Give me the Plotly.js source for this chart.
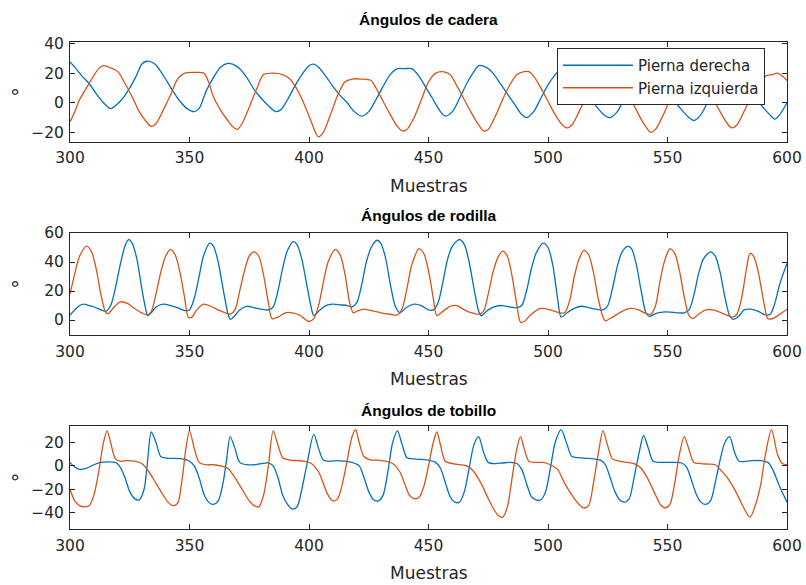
<!DOCTYPE html>
<html>
<head>
<meta charset="utf-8">
<script src="https://cdn.plot.ly/plotly-3.0.1.min.js"></script>
<style>html,body{margin:0;padding:0;background:#fff;}#chart{width:806px;height:585px;}</style>
</head>
<body>
<div id="chart"></div>
<script>
// ---------- DATA ----------
const seriesNames = ["Pierna derecha", "Pierna izquierda"];
const panelTitles = ["Ángulos de cadera", "Ángulos de rodilla", "Ángulos de tobillo"];
const xTickVals = [300, 350, 400, 450, 500, 550, 600];
const hipTicks = [-20, 0, 20, 40];
const kneeTicks = [0, 20, 40, 60];
const ankleTicks = [-40, -20, 0, 20];

// Hip - right leg
const hipRightX = [300,302,305,308,311,314,317,319,321,323,325,328,330,332,334,336,338,340,343,346,349,352,354,357,360,363,366,368,371,374,377,380,383,386,388,391,394,397,400,402,404,407,410,413,416,419,422,425,428,431,434,437,440,443,446,449,452,455,457,460,463,466,469,471,474,477,480,483,486,489,491,494,497,500,503,506,509,512,515,518,521,524,526,529,532,535,538,541,544,547,550,553,556,559,561,564,567,570,573,576,579,582,585,588,591,594,595,597,600];
const hipRightY = [27.5,24,18,13,6,0,-4,-2,1,5,10,19,26,28,27.5,25.5,21,16,8,1,-4,-6,-4,8,17,24,26.5,26,23,17,9,3,-2,-6,-5,2,11,19,25,26,24,18,11,5,0,-6,-9,-6,2,11,19,23,23,23,18,10,2,-6,-9,-6,3,13,21,25,24,20,13,6,-1,-8,-10,-6,3,12,19,23,22,16,8,2,-4,-9,-10,-6,3,12,19,22,21,16,8,1,-5,-10,-12,-8,1,10,18,22,21,15,8,1,-5,-10,-11,-8,0];
// Hip - left leg
const hipLeftX = [300,302,304,308,312,314,317,320,323,326,329,332,334,336,339,342,345,348,352,356,358,360,363,366,368,370,372,375,378,381,385,389,392,395,398,401,403,404,406,409,412,415,418,422,426,428,431,434,437,439,441,444,447,450,453,456,459,462,465,468,471,473,475,478,481,484,487,490,492,494,497,500,503,506,508,510,513,516,519,522,525,528,531,534,537,540,543,545,548,551,554,557,560,563,566,569,572,575,577,579,582,585,588,591,594,596,598,600];
const hipLeftY = [-13,-6,2,13,23,25,23.5,21,13,4,-6,-13,-16,-14,-5,5,16,20,20.5,20,14,4,-5,-12,-16,-18,-14,-3,9,19,20,19,16,9,-1,-13,-21,-23,-20,-8,5,14,16,16,15,10,1,-8,-16,-19,-18,-10,2,14,20,21,19,11,2,-7,-15,-19,-18,-9,2,12,19,21,21,18,10,1,-8,-15,-17,-15,-6,4,13,18,20,19,13,4,-5,-14,-20,-18,-9,2,11,17,19,18,12,3,-6,-14,-17,-15,-6,4,13,18,19,20,18,15];

// Knee - right leg
const kneeRightX = [300,302,304,306,308,310,313,315,317,319,321,323,324.5,326,328,330,331.5,332.5,334,336,339,342,345,348,350,352,354,356,358.5,360,362,364,366,367,369,371,374,377,380,383,385,387,389,391,393.5,395,397,399,401,402,404,407,410,413,416,418,420,422,424,426,428.5,430,432,434,436,438,441,444,447,450,452,454,456,458,460,463,465,467,469,471,472,475,478,481,484,487,489,491,493,495,498,500,502,504,505.5,508,511,514,517,520,523,525,527,529,531,533.5,535,537,539,541,542.5,545,548,551,554,557,559,561,563,565,568,570,572,574,576,577.5,580,582,585,588,591,593,595,597,600];
const kneeRightY = [3.5,7,10,11,10,9,7,6,10,22,38,51,55.5,53,42,22,9,3,5,9,11,10,8.5,6.5,7,15,30,45,53,51,40,22,5,0.5,3,7,9.5,8.5,7.5,7,9,20,36,48,54,52,42,25,8,3,6,10,11,10.5,10,9,12,24,40,50,55,53,43,25,10,5,9,11,10,7,7,12,26,42,51,55.5,52,40,22,6,3,7,9.5,10,9,8.5,10,20,35,46,53,50,38,15,2,5,8,9.5,8.5,7.5,7,10,22,37,47,51,49,38,20,5,2.5,4.5,5.5,5.5,5,5,7,17,32,42,47,44,33,16,3,0.5,3,7,7.5,6,3.5,4,12,25,39];
// Knee - left leg
const kneeLeftX = [300,302,304,307,309,311,313,315,316,318,321,324,327,330,332.5,334,336,338,340,342,344,346,348,349.5,351,353,356,359,362,365,367,369,371,373,375,377,379,381,383,384.5,387,390,393,396,398,400,402,404,406,408,411,413,415,417,418.5,420,423,426,430,434,437,439,441,443,446,448,450,452,453.5,456,459,462,465,468,471,473,475,477,479,481,483,485,487,488.5,490,493,497,501,505,507,509,511,513,515,517,519,521,523,524,527,531,534.5,538,541,543,545,547,549,551,553,555,557,559,560.5,563,566,569,574,577,579,581,583,584.5,586,588,590,592,594,597,600];
const kneeLeftY = [18,32,44,51,47,35,17,5,4.5,8,12.5,11.5,8,5,3.5,6,18,33,44,48.5,45,33,15,2,2,7,11,9.5,7,5,4,7,20,34,44,47,44,31,12,1,2,5,5,3.5,1,-1,1,10,26,40,48.5,45,32,12,5,6,7.5,6.5,5,4,3.5,8,22,38,49,46,34,15,3,6,9.5,10,7,5,4,6,18,33,43,47.5,44,30,10,-1.5,-1,4,8,7,5,5,13,30,42,48,45,33,15,2,-0.5,2,6,8,7,4.5,4,10,28,42,49,46,34,16,3,1,4,7,7,4,2,4,15,35,46,44,33,15,1,1,4,7.4];

// Ankle - right leg
const ankleRightX = [300,302,304,307,310,313,316,319,321,323,325,327,329,331,332.5,334,336,338,341,344,347,350,352,354,356,358,360,362,364,365.5,367,369,371,374,377,380,383,385,387,389,391,393,395,397,399,402,404,406,409,412,415,418,421,423,425,427,429,431,433,435,437,439,441,444,447,450,453,455,457,459,461,463,465,467,469,471,473,475,478,481,484,487,489,491,493,495,497,499,501,503,505.5,508,510,513,516,519,522,524,526,528,530,532,534,536,538,540,542,544,547,550,553,556,558,560,562,564,566,568,570,572,574,576,578,580,585,589,592,594,597,600];
const ankleRightY = [3,-1,-3,-2,1,3,3.5,3,-1,-10,-22,-28,-29,-20,5,29,20,8,6.5,6.5,6,4,0,-10,-24,-31,-33,-30,-15,5,25,15,3,1,1,2,2.5,0,-10,-25,-33,-37,-35,-20,0,27,15,5,4,4.5,4,3,0,-10,-22,-29,-30,-25,-5,20,30,18,7,6,5.5,5,3,-2,-14,-26,-31,-31,-22,-2,18,25,12,3,2,2.5,3,2,-3,-15,-26,-29,-29,-22,-2,20,31,18,8,7,6.5,6,5,1,-10,-22,-29,-31,-28,-10,10,26,15,4,3,3,3,2.5,-1,-12,-24,-31,-33,-30,-14,5,20,25,12,4,4.5,4.5,3,-3,-18,-31];
// Ankle - left leg
const ankleLeftX = [300,302,304,306,308,310,312,314,315.5,317,319,321,324,327,330,333,336,339,341,343,345,347,348.5,350,352,354,357,360,363,366,369,372,375,377,379,381,383,385,387,389,392,395,398,401,404,406,408,410,412,414,416,418,419.5,421,423,426,429,432,435,438,440,442,444,446,448,450,452,453.5,455,457,460,463,466,469,472,475,477,479,481,483,485,487,488.5,490,492,495,498,501,504,507,510,513,515,517,519,521,523,525,527,530,533,536,539,542,545,547,549,551,553,555,557,559,561,564,567,570,572,575,577.5,580,581.7,584.5,587,589,591,593.5,596,598,600];
const ankleLeftY = [-20,-30,-34,-35,-34,-25,-5,20,30,20,6,4,4.5,4,2,-5,-15,-25,-31,-34,-32,-10,15,30,15,3,1,1,0,-2,-10,-20,-30,-34,-35,-25,0,30,18,7,5,4.5,4,2,-5,-15,-25,-30,-28,-15,5,25,31,20,8,5,5,4,2,-5,-15,-25,-28,-27,-18,0,20,29,18,4,2,1,0,-5,-15,-28,-36,-42,-44,-35,-10,15,25,15,4,3,3,1,-3,-15,-25,-33,-36,-34,-15,10,30,17,6,4,3,2,-2,-12,-25,-33,-36,-33,-15,10,25,14,3,2,1.5,1,-3,-10,-18,-28,-35,-44,-32,-16,10,31,10,2,1];

// ---------- STYLE ----------
const W = 806, H = 585;
const BLUE = "#0072BD", ORANGE = "#D95319", INK = "#262626";
const LABEL_FONT = "DejaVu Sans, Verdana, sans-serif";
const TITLE_FONT = "Liberation Sans, Arial, Helvetica, sans-serif";
const left = 70, right = 787;
const panels = [
  {top: 41.7, bottom: 141.7, range: [-26.3, 41.2], ticks: hipTicks, xs: [hipRightX, hipLeftX], ys: [hipRightY, hipLeftY], titleY: 20},
  {top: 232.7, bottom: 335, range: [-10.3, 60.2], ticks: kneeTicks, xs: [kneeRightX, kneeLeftX], ys: [kneeRightY, kneeLeftY], titleY: 215},
  {top: 425.7, bottom: 529, range: [-54, 34.4], ticks: ankleTicks, xs: [ankleRightX, ankleLeftX], ys: [ankleRightY, ankleLeftY], titleY: 410}
];

const px = v => v / W;
const py = v => 1 - v / H;

const data = [];
const layout = {
  width: W, height: H,
  margin: {l: 0, r: 0, t: 0, b: 0},
  paper_bgcolor: "#fff", plot_bgcolor: "#fff",
  font: {family: LABEL_FONT, size: 15, color: INK},
  showlegend: true,
  legend: {
    x: px(557), y: py(48), xanchor: "left", yanchor: "top",
    bgcolor: "#fff", bordercolor: INK, borderwidth: 1,
    font: {family: LABEL_FONT, size: 15, color: INK},
    itemwidth: 70
  },
  annotations: [],
  shapes: []
};

panels.forEach((p, i) => {
  const n = i + 1;
  const xa = "xaxis" + (n === 1 ? "" : n), ya = "yaxis" + (n === 1 ? "" : n);
  const xr = "x" + (n === 1 ? "" : n), yr = "y" + (n === 1 ? "" : n);
  const common = {
    showgrid: false, zeroline: false, showline: true, mirror: "ticks",
    linecolor: INK, linewidth: 1, ticks: "inside", ticklen: 5, tickwidth: 1, tickcolor: INK,
    tickfont: {family: LABEL_FONT, size: 15.5, color: INK}, fixedrange: true
  };
  layout[xa] = Object.assign({}, common, {
    domain: [px(left), px(right)], range: [300, 600], tickvals: xTickVals,
    anchor: yr, ticklabelstandoff: 2
  });
  layout[ya] = Object.assign({}, common, {
    domain: [py(p.bottom), py(p.top)], range: p.range, tickvals: p.ticks,
    anchor: xr, ticklabelstandoff: 2
  });
  [0, 1].forEach(s => {
    data.push({
      type: "scatter", mode: "lines", xaxis: xr, yaxis: yr,
      x: p.xs[s], y: p.ys[s], name: seriesNames[s],
      showlegend: n === 1,
      line: {color: s === 0 ? BLUE : ORANGE, width: 1.3, shape: "spline", smoothing: 0.8},
      hoverinfo: "skip"
    });
  });
  layout.annotations.push({
    text: "<b>" + panelTitles[i] + "</b>", xref: "paper", yref: "paper",
    x: px((left + right) / 2), y: py(p.titleY), xanchor: "center", yanchor: "middle",
    showarrow: false, font: {family: TITLE_FONT, size: 15.5, color: "#000"}
  });
  layout.annotations.push({
    text: "Muestras", xref: "paper", yref: "paper",
    x: px((left + right) / 2), y: py(p.bottom + 44), xanchor: "center", yanchor: "middle",
    showarrow: false, font: {family: LABEL_FONT, size: 17, color: INK}
  });
  layout.annotations.push({
    text: "°", xref: "paper", yref: "paper", textangle: -90,
    x: px(20), y: py((p.top + p.bottom) / 2), xanchor: "center", yanchor: "middle",
    showarrow: false, font: {family: LABEL_FONT, size: 19, color: INK}
  });
});

Plotly.newPlot("chart", data, layout, {staticPlot: true, displayModeBar: false});
</script>
</body>
</html>
